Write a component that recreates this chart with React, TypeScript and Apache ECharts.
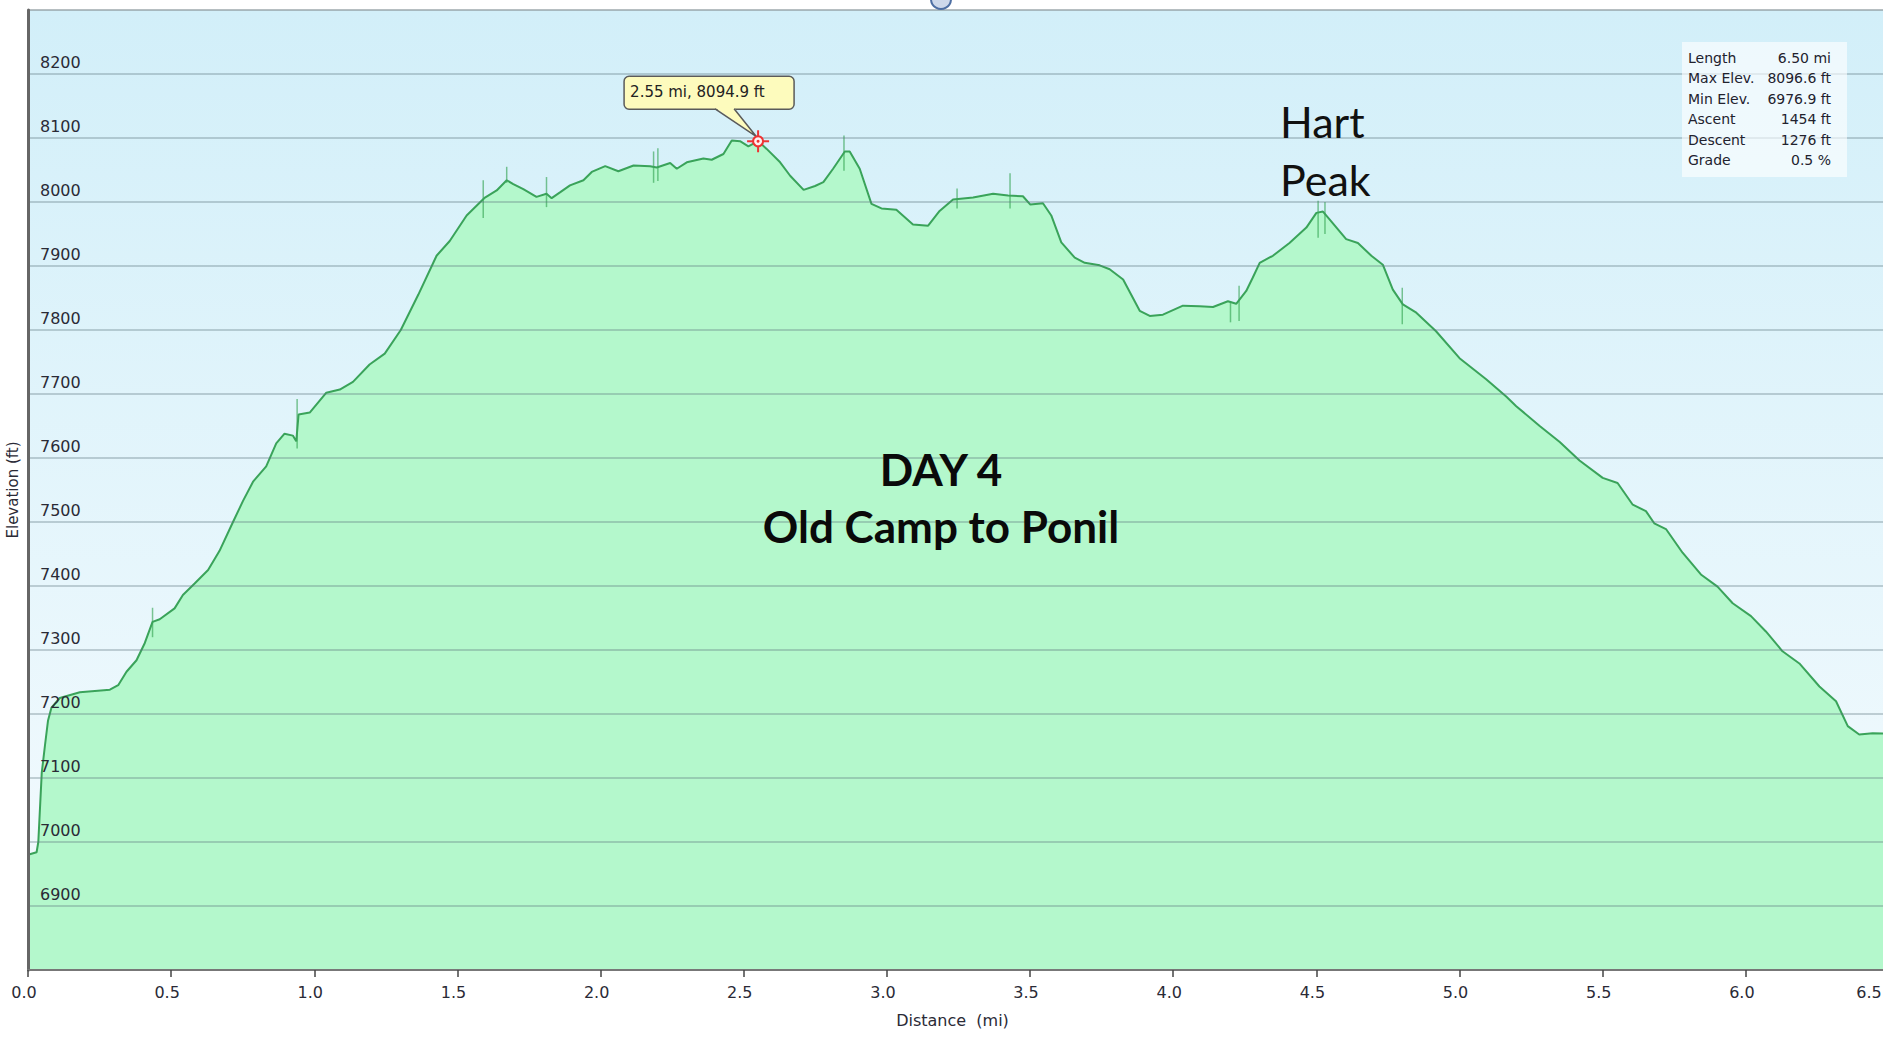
import React, { useEffect, useRef } from "react";
import * as echarts from "echarts";

// ---- data ----
const distanceMi = [
  0.0, 0.03, 0.036, 0.048, 0.059, 0.07, 0.082, 0.111, 0.181, 0.286, 0.315, 0.344, 0.379, 0.408, 0.435,
  0.46, 0.512, 0.541, 0.582, 0.629, 0.669, 0.716, 0.751, 0.786, 0.832, 0.867, 0.896, 0.925, 0.937, 0.945,
  0.984, 1.042, 1.089, 1.135, 1.193, 1.246, 1.302, 1.363, 1.427, 1.473, 1.532, 1.596, 1.637, 1.672, 1.695,
  1.73, 1.776, 1.811, 1.829, 1.858, 1.893, 1.94, 1.969, 2.016, 2.062, 2.115, 2.173, 2.196, 2.243, 2.266,
  2.301, 2.359, 2.388, 2.429, 2.458, 2.487, 2.516, 2.55, 2.58, 2.627, 2.662, 2.709, 2.749, 2.778, 2.812,
  2.853, 2.87, 2.905, 2.946, 2.981, 3.033, 3.091, 3.144, 3.184, 3.231, 3.301, 3.371, 3.423, 3.475, 3.501,
  3.545, 3.574, 3.609, 3.656, 3.691, 3.743, 3.778, 3.825, 3.883, 3.918, 3.964, 4.034, 4.092, 4.139, 4.191,
  4.22, 4.255, 4.278, 4.302, 4.348, 4.406, 4.465, 4.5, 4.523, 4.546, 4.604, 4.645, 4.692, 4.732, 4.767,
  4.802, 4.849, 4.918, 5.0, 5.093, 5.163, 5.198, 5.28, 5.35, 5.419, 5.5, 5.552, 5.605, 5.651, 5.68,
  5.721, 5.779, 5.843, 5.901, 5.954, 6.018, 6.07, 6.128, 6.187, 6.257, 6.315, 6.356, 6.396, 6.443, 6.5,
];
const elevationFt = [
  6980, 6984, 7000, 7108, 7150, 7190, 7210, 7225, 7234, 7238, 7245, 7266, 7284, 7311, 7344,
  7348, 7365, 7386, 7404, 7425, 7455, 7500, 7533, 7563, 7587, 7623, 7638, 7635, 7626, 7668,
  7671, 7702, 7707, 7719, 7746, 7763, 7800, 7855, 7916, 7939, 7979, 8007, 8018, 8034, 8028,
  8020, 8008, 8013, 8006, 8015, 8026, 8034, 8047, 8056, 8048, 8057, 8056, 8054, 8061, 8052,
  8062, 8068, 8066, 8075, 8096, 8095, 8087, 8095, 8083, 8062, 8041, 8019, 8025, 8031, 8052,
  8079, 8079, 8052, 7997, 7990, 7988, 7965, 7963, 7986, 8004, 8007, 8013, 8010, 8009, 7996,
  7998, 7979, 7937, 7913, 7905, 7901, 7895, 7879, 7830, 7822, 7824, 7838, 7837, 7836, 7845,
  7841, 7861, 7882, 7905, 7916, 7936, 7960, 7983, 7985, 7973, 7942, 7936, 7916, 7902, 7863,
  7840, 7827, 7798, 7756, 7723, 7696, 7681, 7650, 7625, 7596, 7569, 7561, 7527, 7517, 7498,
  7489, 7452, 7418, 7399, 7373, 7353, 7329, 7298, 7279, 7243, 7220, 7181, 7168, 7170, 7169,
];
// GPS noise spikes: [distance, low, high]
const spikeDistance = [0.435, 0.94, 1.59, 1.672, 1.811, 2.185, 2.2, 2.85, 3.245, 3.43, 4.2, 4.23, 4.506, 4.53, 4.8];
const spikeLow = [7320, 7615, 7975, 8030, 7992, 8030, 8033, 8049, 7990, 7990, 7812, 7814, 7944, 7950, 7809];
const spikeHigh = [7366, 7692, 8034, 8055, 8039, 8079, 8084, 8104, 8021, 8045, 7845, 7869, 8002, 8000, 7866];

const xMin = 0;
const xMax = 6.5;
const xStep = 0.5;
const yMin = 6800;
const yMax = 8300;
const yStep = 100;

const statsLabels = ["Length", "Max Elev.", "Min Elev.", "Ascent", "Descent", "Grade"];
const statsValues = ["6.50 mi", "8096.6 ft", "6976.9 ft", "1454 ft", "1276 ft", "0.5 %"];
const peakPoint = [2.55, 8094.9];
const peakLabel = "2.55 mi, 8094.9 ft";
const titleLines = ["DAY 4", "Old Camp to Ponil"];
const peakNameLines = ["Hart", "Peak"];

const AXIS_FONT = '"DejaVu Sans", Verdana, sans-serif';

export default function App() {
  const ref = useRef<HTMLDivElement>(null);

  useEffect(() => {
    if (!ref.current) return;
    const chart = echarts.init(ref.current, null, { renderer: "svg" });

    const profile = distanceMi.map((d, i) => [d, elevationFt[i]]);
    const spikes = spikeDistance.map((d, i) => [d, spikeLow[i], spikeHigh[i]]);

    chart.setOption({
      animation: false,
      backgroundColor: "#ffffff",
      grid: {
        left: 28,
        top: 10,
        right: -6,
        bottom: 68,
        outerBoundsMode: "none",
        containLabel: false,
        show: true,
        borderColor: "#c4c4c4",
        borderWidth: 1,
        backgroundColor: new echarts.graphic.LinearGradient(0, 0, 0, 1, [
          { offset: 0, color: "#d2eff9" },
          { offset: 1, color: "#f5fbfe" },
        ]),
      },
      xAxis: {
        type: "value",
        min: xMin,
        max: xMax,
        interval: xStep,
        z: 3,
        name: "Distance  (mi)",
        nameLocation: "middle",
        nameGap: 42,
        nameTextStyle: { fontFamily: AXIS_FONT, fontSize: 16, color: "#2a2a36", padding: [0, 12, 0, 0] },
        axisLine: { show: true, lineStyle: { color: "#777777", width: 2 } },
        axisTick: { show: true, length: 7, lineStyle: { color: "#444444", width: 1.5 } },
        axisLabel: {
          margin: 14,
          fontFamily: AXIS_FONT,
          fontSize: 16,
          color: "#2a2a36",
          hideOverlap: false,
          padding: [0, 8, 0, 0],
          formatter: (v: number) => (v >= xMax ? "{last|" + v.toFixed(1) + "}" : v.toFixed(1)),
          rich: {
            last: { fontFamily: AXIS_FONT, fontSize: 16, color: "#2a2a36", padding: [0, 32, 0, 0] },
          },
        },
        splitLine: { show: false },
      },
      yAxis: {
        type: "value",
        min: yMin,
        max: yMax,
        interval: yStep,
        z: 3,
        name: "Elevation (ft)",
        nameLocation: "middle",
        nameGap: 6,
        nameTextStyle: { fontFamily: AXIS_FONT, fontSize: 15, color: "#2a2a36" },
        axisLine: { show: true, lineStyle: { color: "#666666", width: 3 } },
        axisTick: { show: false },
        axisLabel: {
          inside: true,
          margin: 12,
          showMinLabel: false,
          showMaxLabel: false,
          fontFamily: AXIS_FONT,
          fontSize: 16,
          color: "#2a2a36",
          verticalAlign: "bottom",
          padding: [0, 0, 4, 0],
          formatter: (v: number) => String(v),
        },
        splitLine: { show: true, lineStyle: { color: "rgba(90,115,125,0.32)", width: 2 } },
      },
      series: [
        {
          type: "line",
          data: profile,
          showSymbol: false,
          z: 2,
          lineStyle: { color: "#3aa35a", width: 2 },
          areaStyle: { color: "#b4f8cc", opacity: 1, origin: "start" },
        },
        {
          type: "custom",
          data: spikes,
          z: 2,
          encode: { x: 0, y: [1, 2] },
          renderItem: (_params: any, api: any) => {
            const a = api.coord([api.value(0), api.value(1)]);
            const b = api.coord([api.value(0), api.value(2)]);
            return {
              type: "line",
              shape: { x1: a[0], y1: a[1], x2: b[0], y2: b[1] },
              style: { stroke: "rgba(45,160,75,0.6)", lineWidth: 1.5 },
            };
          },
        },
      ],
    });

    const p = chart.convertToPixel({ gridIndex: 0 }, peakPoint) as number[];
    const px = p[0];
    const py = p[1];
    const red = "#ee3333";
    const boxFill = "#fdfbbd";
    const boxStroke = "#5a5a5a";

    const graphics: any[] = [
      // small blue control at the top
      { type: "circle", shape: { cx: 941, cy: -1, r: 10 }, style: { fill: "#cdd8ea", stroke: "#4e6fa3", lineWidth: 2 }, z: 20 },
      // stats box
      { type: "rect", shape: { x: 1682, y: 42, width: 165, height: 135 }, style: { fill: "rgba(255,255,255,0.62)" }, z: 20 },
      ...statsLabels.map((t, i) => ({
        type: "text",
        x: 1688,
        y: 58 + i * 20.4,
        z: 21,
        style: { text: t, fontFamily: AXIS_FONT, fontSize: 14, fill: "#22222e", align: "left", verticalAlign: "middle" },
      })),
      ...statsValues.map((t, i) => ({
        type: "text",
        x: 1831,
        y: 58 + i * 20.4,
        z: 21,
        style: { text: t, fontFamily: AXIS_FONT, fontSize: 14, fill: "#22222e", align: "right", verticalAlign: "middle" },
      })),
      // Hart Peak
      ...peakNameLines.map((t, i) => ({
        type: "text",
        x: 1280,
        y: 121 + i * 58,
        z: 21,
        style: { text: t, fontFamily: "Lato, sans-serif", fontSize: 43, fill: "#111111", align: "left", verticalAlign: "middle" },
      })),
      // title
      ...titleLines.map((t, i) => ({
        type: "text",
        x: 941,
        y: 469 + i * 57,
        z: 21,
        style: {
          text: t,
          fontFamily: "Lato, sans-serif",
          fontWeight: "bold",
          fontSize: 44,
          fill: "#0a0a0a",
          align: "center",
          verticalAlign: "middle",
        },
      })),
      // callout box
      {
        type: "rect",
        shape: { x: px - 134, y: py - 65, width: 170, height: 33, r: 5 },
        style: { fill: boxFill, stroke: boxStroke, lineWidth: 1.5 },
        z: 22,
      },
      {
        type: "polygon",
        shape: { points: [[px - 43, py - 33.6], [px - 24, py - 33.6], [px - 2, py - 5]] },
        style: { fill: boxFill },
        z: 23,
      },
      {
        type: "polyline",
        shape: { points: [[px - 43, py - 32.5], [px - 2, py - 5], [px - 24, py - 32.5]] },
        style: { stroke: boxStroke, lineWidth: 1.5, fill: null },
        z: 23,
      },
      {
        type: "text",
        x: px - 128,
        y: py - 49,
        z: 24,
        style: { text: peakLabel, fontFamily: AXIS_FONT, fontSize: 15, fill: "#222222", align: "left", verticalAlign: "middle" },
      },
      // marker
      { type: "circle", shape: { cx: px, cy: py, r: 5 }, style: { fill: "#fff0f0", stroke: red, lineWidth: 2 }, z: 25 },
      { type: "circle", shape: { cx: px, cy: py, r: 1.5 }, style: { fill: red }, z: 25 },
      { type: "line", shape: { x1: px - 11, y1: py, x2: px - 5, y2: py }, style: { stroke: red, lineWidth: 2 }, z: 25 },
      { type: "line", shape: { x1: px + 5, y1: py, x2: px + 11, y2: py }, style: { stroke: red, lineWidth: 2 }, z: 25 },
      { type: "line", shape: { x1: px, y1: py - 11, x2: px, y2: py - 5 }, style: { stroke: red, lineWidth: 2 }, z: 25 },
      { type: "line", shape: { x1: px, y1: py + 5, x2: px, y2: py + 11 }, style: { stroke: red, lineWidth: 2 }, z: 25 },
    ];

    chart.setOption({ graphic: graphics });

    return () => {
      chart.dispose();
    };
  }, []);

  return (
    <div
      ref={ref}
      style={{ position: "fixed", left: 0, top: 0, width: "100vw", height: "100vh", background: "#ffffff" }}
    />
  );
}
